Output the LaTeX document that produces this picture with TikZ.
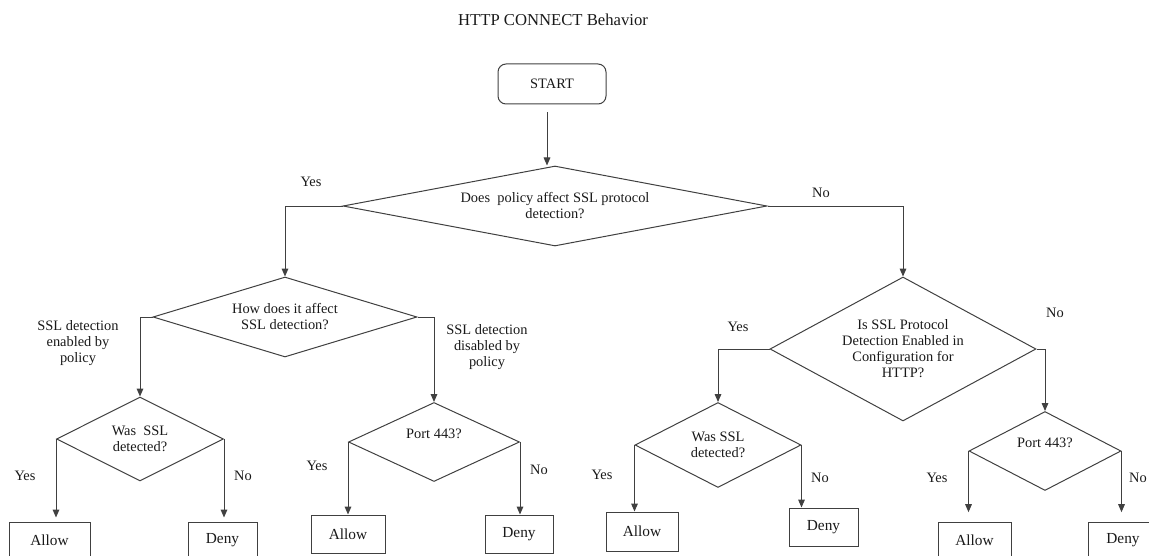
\documentclass[tikz,border=0pt]{standalone}
\usepackage{fontspec}
\setmainfont{Liberation Serif}
\usetikzlibrary{shapes.geometric, arrows.meta}

\begin{document}
\begin{tikzpicture}[
        x=0.75pt, y=-0.75pt,
        every node/.style={font=\fontsize{10.8}{12}\selectfont, text=black!90},
        decision/.style={diamond, draw=black!75, line width=0.75pt, inner sep=0pt, align=center},
        endbox/.style={rectangle, draw=black!75, line width=0.75pt, inner sep=0pt, font=\fontsize{11.5}{13}\selectfont},
        arr/.style={-{Triangle[length=6pt,width=5pt]}, draw=black!75, line width=0.75pt}
      ]

      \useasboundingbox (0,0) rectangle (1149,556);

      \node[font=\fontsize{12.5}{14}\selectfont] (title) at (553,20) {HTTP CONNECT Behavior};
      \node[draw=black!75, line width=0.75pt, rounded corners=6pt, minimum width=81pt, minimum height=30pt, inner sep=0pt] (start) at (552,84) {START};

      \node[decision, aspect=5.3, minimum width=318pt, minimum height=60pt] (qpolicy) at (555,206) {Does\ \ policy affect SSL protocol\\detection?};
      \node[decision, aspect=3.3, minimum width=198pt, minimum height=60pt] (qhow) at (285,317) {How does it affect\\SSL detection?};
      \node[decision, aspect=1.85, minimum width=199.5pt, minimum height=108pt] (qconfig) at (903,349) {Is SSL Protocol\\Detection Enabled in\\Configuration for\\HTTP?};
      \node[decision, aspect=2, minimum width=125.25pt, minimum height=63pt] (qssl1) at (140,439) {Was\ \ SSL\\detected?};
      \node[decision, aspect=2.16, minimum width=128.25pt, minimum height=59.25pt] (qport1) at (434,442) {Port 443?\\\phantom{Port}};
      \node[decision, aspect=1.95, minimum width=124.5pt, minimum height=63.75pt] (qssl2) at (718,445) {Was SSL\\detected?};
      \node[decision, aspect=1.92, minimum width=114pt, minimum height=59.25pt] (qport2) at (1045,451) {Port 443?\\\phantom{Port}};

      \node[endbox, minimum width=60.75pt, minimum height=27pt] (allow1) at (49.5,540) {Allow};
      \node[endbox, minimum width=51.75pt, minimum height=27pt] (deny1) at (222.5,540) {Deny};
      \node[endbox, minimum width=55.5pt, minimum height=28.5pt] (allow2) at (348,534) {Allow};
      \node[endbox, minimum width=51pt, minimum height=28.5pt] (deny2) at (519,534) {Deny};
      \node[endbox, minimum width=54pt, minimum height=29.25pt] (allow3) at (642,531.5) {Allow};
      \node[endbox, minimum width=51.75pt, minimum height=28.5pt] (deny3) at (823.5,527) {Deny};
      \node[endbox, minimum width=54.75pt, minimum height=27pt] (allow4) at (974.5,540) {Allow};
      \node[endbox, minimum width=52.5pt, minimum height=27pt] (deny4) at (1123,540) {Deny};

      % branch labels
      \node (yes0) at (311,182) {Yes};
      \node (no0) at (821,193) {No};
      \node[align=center] (enabled) at (78,343) {SSL detection\\enabled by\\policy};
      \node[align=center] (disabled) at (487,347) {SSL detection\\disabled by\\policy};
      \node (yes1) at (25,476) {Yes};
      \node (no1) at (243,476) {No};
      \node (yes2) at (317,466) {Yes};
      \node (no2) at (539,470) {No};
      \node (yes3) at (738,327) {Yes};
      \node (no3) at (1055,313) {No};
      \node (yes4) at (602,475) {Yes};
      \node (no4) at (820,478) {No};
      \node (yes5) at (937,478) {Yes};
      \node (no5) at (1138,478) {No};

      % connectors
      \coordinate (s0) at ([xshift=-3.75pt]start.south);
      \draw[arr, shorten <=6pt] (s0) -- (s0 |- qpolicy.north);
      \draw[arr] (qpolicy.west) -| (qhow.north);
      \draw[arr] (qpolicy.east) -| (qconfig.north);
      \draw[arr] (qhow.west) -| (qssl1.north);
      \draw[arr] (qhow.east) -| (qport1.north);
      \draw[arr] (qconfig.west) -| (qssl2.north);
      \draw[arr] (qconfig.east) -| (qport2.north);

      \draw[arr, shorten >=3pt] (qssl1.west) -- (qssl1.west |- allow1.north);
      \draw[arr, shorten >=3pt] (qssl1.east) -- (qssl1.east |- deny1.north);
      \draw[arr] (qport1.west) -- (qport1.west |- allow2.north);
      \draw[arr] (qport1.east) -- (qport1.east |- deny2.north);
      \draw[arr] (qssl2.west) -- (qssl2.west |- allow3.north);
      \draw[arr] (qssl2.east) -- (qssl2.east |- deny3.north);
      \draw[arr, shorten >=7pt] (qport2.west) -- (qport2.west |- allow4.north);
      \draw[arr, shorten >=7pt] (qport2.east) -- (qport2.east |- deny4.north);

    \end{tikzpicture}
\end{document}
